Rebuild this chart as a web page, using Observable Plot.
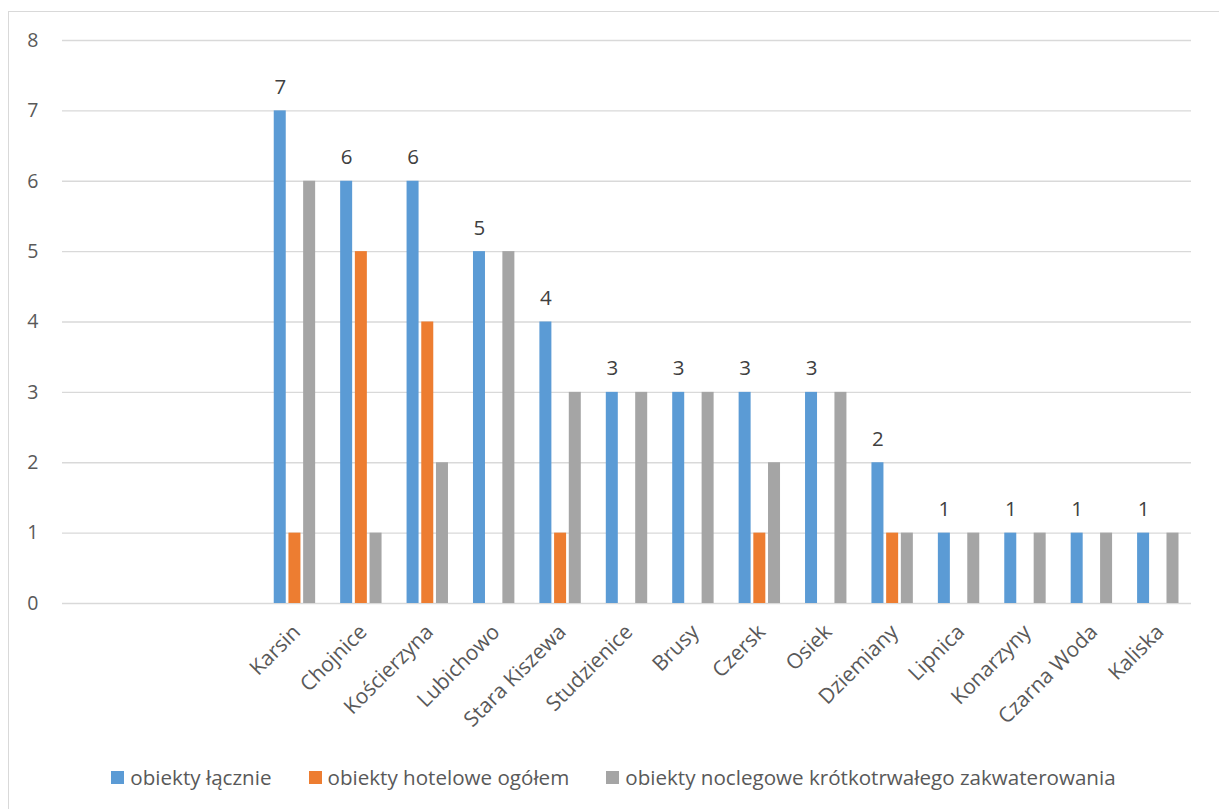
<!DOCTYPE html>
<html>
<head>
<meta charset="utf-8">
<script src="https://cdn.jsdelivr.net/npm/d3@7"></script>
<script src="https://cdn.jsdelivr.net/npm/@observablehq/plot@0.6"></script>
<style>
  html, body { margin: 0; padding: 0; background: #fff; }
  body { position: relative; width: 1219px; height: 809px; overflow: hidden; font-family: "Open Sans", sans-serif; }
  #frame { position: absolute; left: 8px; top: 11px; width: 1240px; height: 830px; border: 1px solid #d9d9d9; z-index: 2; pointer-events: none; }
  #chart { position: absolute; left: 0; top: 0; }
  #legend { position: absolute; left: 8px; top: 763px; width: 1211px; display: flex; justify-content: center; gap: 37px; color: #595959; font-size: 20.6px; line-height: 28px; }
  .item { display: flex; align-items: center; gap: 6px; white-space: nowrap; }
  .sw { width: 13px; height: 13px; display: inline-block; }
</style>
</head>
<body>
<div id="frame"></div>
<div id="chart"></div>
<div id="legend"></div>
<script>
// ---- data ----
const categories = ["Karsin", "Chojnice", "Kościerzyna", "Lubichowo", "Stara Kiszewa", "Studzienice", "Brusy", "Czersk", "Osiek", "Dziemiany", "Lipnica", "Konarzyny", "Czarna Woda", "Kaliska"];
const emptySlots = ["_e1", "_e2", "_e3"]; // empty categories before Karsin
const seriesNames = ["obiekty łącznie", "obiekty hotelowe ogółem", "obiekty noclegowe krótkotrwałego zakwaterowania"];
const seriesColors = ["#5b9bd5", "#ed7d31", "#a5a5a5"];
const obiektyLacznie = [7, 6, 6, 5, 4, 3, 3, 3, 3, 2, 1, 1, 1, 1];
const obiektyHotelowe = [1, 5, 4, 0, 1, 0, 0, 1, 0, 1, 0, 0, 0, 0];
const obiektyNoclegowe = [6, 1, 2, 5, 3, 3, 3, 2, 3, 1, 1, 1, 1, 1];
const yTicks = [0, 1, 2, 3, 4, 5, 6, 7, 8];

// ---- build ----
const seriesValues = [obiektyLacznie, obiektyHotelowe, obiektyNoclegowe];
const rows = seriesValues.map((vals, s) =>
  categories.map((c, i) => ({category: c, series: seriesNames[s], value: vals[i]})));
const domain = [...emptySlots, ...categories];

const W = 1219, H = 745;
const mL = 62, mR = 28, mT = 40, mB = H - 603;
const step = (W - mL - mR) / domain.length;
const barW = 12, barStep = 14.7;
function insets(k) {
  const center = step / 2 + (k - 1) * barStep;
  return {insetLeft: center - barW / 2, insetRight: step - center - barW / 2};
}

const chart = Plot.plot({
  width: W,
  height: H,
  marginLeft: mL,
  marginRight: mR,
  marginTop: mT,
  marginBottom: mB,
  style: {fontFamily: "Open Sans, sans-serif", fontSize: "19px", color: "#595959", background: "transparent"},
  x: {domain, padding: 0, round: false, label: null},
  y: {domain: [0, 8], label: null},
  marks: [
    Plot.gridY(yTicks, {stroke: "#d9d9d9", strokeOpacity: 1, strokeWidth: 1.3}),
    ...rows.map((data, k) => Plot.barY(data, {
      x: "category", y: "value", fill: seriesColors[k], ...insets(k)
    })),
    Plot.text(rows[0], {
      x: "category", y: "value", text: d => String(d.value),
      dx: -barStep, dy: -17, lineAnchor: "bottom", fill: "#404040", fontSize: 20.5
    }),
    Plot.axisY({ticks: yTicks, tickSize: 0, tickPadding: 24, fontSize: 19.5, fill: "#595959", label: null}),
    Plot.axisX({tickSize: 0, tickPadding: 25, dx: 2, tickRotate: -45, fontSize: 21, fill: "#595959",
      tickFormat: d => categories.includes(d) ? d : "", label: null})
  ]
});
document.getElementById("chart").appendChild(chart);

const legend = document.getElementById("legend");
seriesNames.forEach((name, k) => {
  const it = document.createElement("div");
  it.className = "item";
  it.innerHTML = `<span class="sw" style="background:${seriesColors[k]}"></span><span>${name}</span>`;
  legend.appendChild(it);
});
</script>
</body>
</html>
